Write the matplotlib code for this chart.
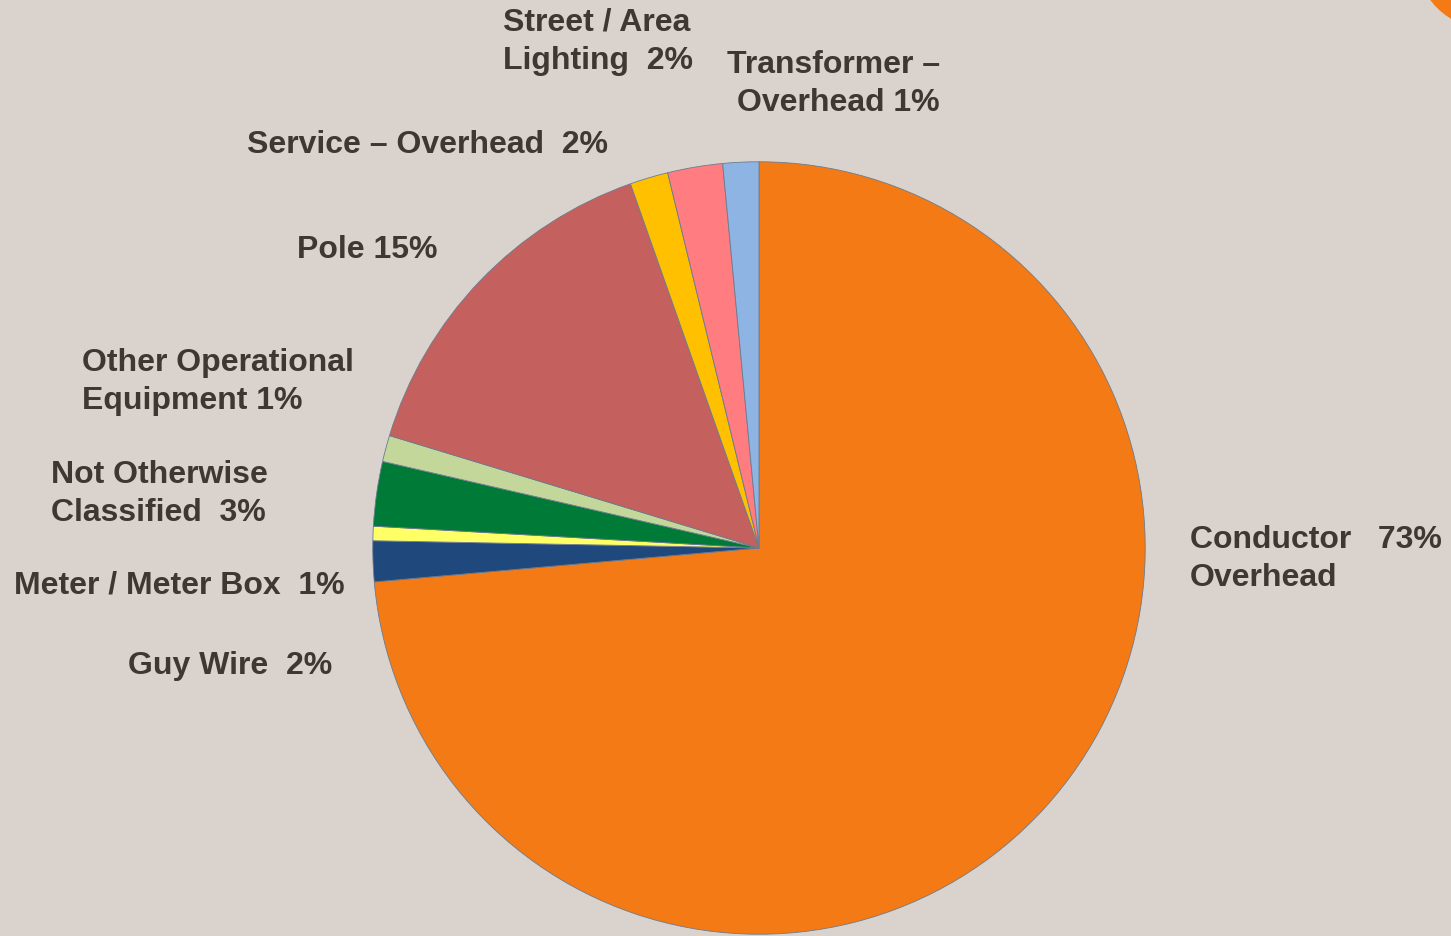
import matplotlib
matplotlib.use("Agg")
import matplotlib.pyplot as plt
from matplotlib.patches import Circle
from matplotlib.transforms import IdentityTransform

# slice shares (percent), clockwise from 12 o'clock
categories = ["Conductor Overhead", "Guy Wire", "Meter / Meter Box",
              "Not Otherwise Classified", "Other Operational Equipment", "Pole",
              "Service – Overhead", "Street / Area Lighting", "Transformer – Overhead"]
shares = [73.6, 1.7, 0.6, 2.7, 1.1, 14.9, 1.6, 2.3, 1.5]
colors = ["#F37A14", "#1F497D", "#FFFF66", "#007A37", "#C4D79B",
          "#C4605D", "#FFC000", "#FF7C80", "#8EB4E3"]

# label text and where it sits (pixel x, pixel y of block centre, alignment)
labels = [
    ("Conductor   73%\nOverhead", 1190, 559, "left"),
    ("Guy Wire  2%", 128, 666, "left"),
    ("Meter / Meter Box  1%", 14, 585, "left"),
    ("Not Otherwise\nClassified  3%", 51, 494, "left"),
    ("Other Operational\nEquipment 1%", 82, 382, "left"),
    ("Pole 15%", 297, 250, "left"),
    ("Service – Overhead  2%", 247, 145, "left"),
    ("Street / Area\nLighting  2%", 503, 42, "left"),
    ("Transformer –\nOverhead 1%", 940, 84, "right"),
]

W, H = 1451, 937
bg = "#DAD3CD"
txt_color = "#3F3732"

fig = plt.figure(figsize=(W / 100, H / 100), dpi=100, facecolor=bg)

# corner decoration (part of an orange circle), in pixels
fig.patches.append(Circle((1488, H + 42), 72, transform=IdentityTransform(),
                          facecolor="#F37A14", edgecolor="none"))

cx, cy, r = 759, 549, 387
ax = fig.add_axes([(cx - r) / W, (H - cy - r) / H, 2 * r / W, 2 * r / H])
ax.set_facecolor(bg)
ax.pie(shares, colors=colors, startangle=90, counterclock=False, radius=1,
       wedgeprops=dict(edgecolor="#6C7B8F", linewidth=0.6))
ax.set_xlim(-1.002, 1.002)
ax.set_ylim(-1.002, 1.002)
ax.axis("off")

for text, x, y, ha in labels:
    fig.text(x / W, 1 - y / H, text, ha=ha, va="center", fontsize=23,
             fontweight="bold", family="Liberation Sans", color=txt_color,
             linespacing=1.36, multialignment=ha)

fig.savefig("out.png", dpi=100, facecolor=bg)
